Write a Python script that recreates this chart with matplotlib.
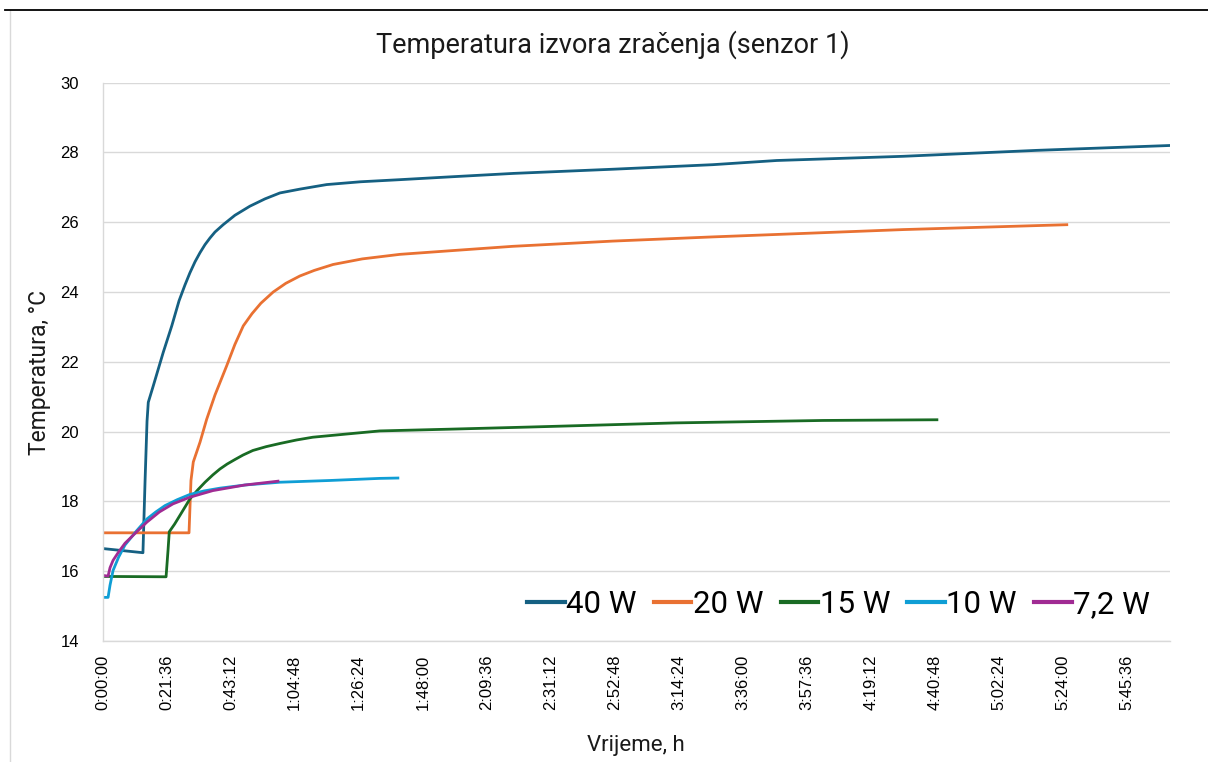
import numpy as np
import matplotlib
matplotlib.use('Agg')
import matplotlib.pyplot as plt
from matplotlib.ticker import FuncFormatter, MultipleLocator
from matplotlib.lines import Line2D

# vrijeme u satima, temperatura u °C (ocitano sa slike)
t_40 = [0.0, 0.227, 0.239, 0.25, 0.257, 0.285, 0.341, 0.389, 0.43, 0.463, 0.491, 0.52,
        0.548, 0.576, 0.604, 0.632, 0.678, 0.744, 0.828, 0.913, 0.997, 1.11, 1.26, 1.45,
        1.67, 1.95, 2.31, 2.87, 3.43, 3.79, 4.5, 5.25, 6.0]
T_40 = [16.65, 16.53, 18.6, 20.3, 20.84, 21.31, 22.27, 23.03, 23.75, 24.2, 24.55, 24.87,
        25.13, 25.36, 25.55, 25.72, 25.93, 26.2, 26.46, 26.67, 26.84, 26.95, 27.08, 27.16,
        27.22, 27.3, 27.4, 27.52, 27.65, 27.77, 27.89, 28.06, 28.2]

t_20 = [0.0, 0.486, 0.497, 0.51, 0.548, 0.585, 0.632, 0.698, 0.744, 0.791, 0.84, 0.89,
        0.959, 1.03, 1.109, 1.19, 1.296, 1.46, 1.671, 2.0, 2.305, 2.867, 3.428, 3.788,
        4.5, 5.42]
T_20 = [17.1, 17.1, 18.6, 19.13, 19.7, 20.35, 21.05, 21.89, 22.5, 23.03, 23.38, 23.68,
        24.0, 24.25, 24.46, 24.62, 24.79, 24.95, 25.08, 25.2, 25.31, 25.46, 25.58, 25.65,
        25.79, 25.93]

t_15 = [0.0, 0.357, 0.368, 0.375, 0.405, 0.435, 0.491, 0.535, 0.576, 0.62, 0.66, 0.7,
        0.744, 0.79, 0.845, 0.92, 0.997, 1.09, 1.182, 1.39, 1.558, 1.95, 2.39, 3.22,
        4.05, 4.69]
T_15 = [15.85, 15.84, 16.6, 17.13, 17.35, 17.6, 18.07, 18.33, 18.55, 18.76, 18.93, 19.07,
        19.2, 19.33, 19.46, 19.57, 19.66, 19.76, 19.84, 19.94, 20.02, 20.07, 20.13, 20.25,
        20.32, 20.34]

t_10 = [0.0, 0.031, 0.042, 0.059, 0.09, 0.126, 0.19, 0.25, 0.3, 0.351, 0.42, 0.491,
        0.57, 0.66, 0.8, 0.997, 1.278, 1.558, 1.66]
T_10 = [15.25, 15.25, 15.6, 16.02, 16.4, 16.75, 17.15, 17.5, 17.7, 17.88, 18.05, 18.2,
        18.3, 18.38, 18.47, 18.55, 18.6, 18.66, 18.67]

t_72 = [0.0, 0.031, 0.042, 0.059, 0.09, 0.126, 0.19, 0.25, 0.32, 0.396, 0.491, 0.62,
        0.8, 0.986]
T_72 = [15.88, 15.86, 16.1, 16.31, 16.55, 16.8, 17.12, 17.41, 17.7, 17.93, 18.12, 18.31,
        18.47, 18.58]

labels = ['40 W', '20 W', '15 W', '10 W', '7,2 W']
colors = ['#156082', '#E97132', '#196B24', '#0F9ED5', '#A02B93']

fig = plt.figure(figsize=(12.08, 7.62), dpi=100)
ax = fig.add_axes([0.0849, 0.1588, 0.8836, 0.7327])

series = [(t_40, T_40), (t_20, T_20), (t_15, T_15), (t_10, T_10), (t_72, T_72)]
for (t, T), lab, c in zip(series, labels, colors):
    ax.plot(t, T, color=c, lw=2.0, label=lab, solid_joinstyle='round')

ax.set_xlim(0, 6.0)
ax.set_ylim(14, 30)
ax.yaxis.set_major_locator(MultipleLocator(2))
ax.xaxis.set_major_locator(MultipleLocator(0.36))


def hms(x, pos):
    s = int(round(x * 3600))
    return '%d:%02d:%02d' % (s // 3600, (s % 3600) // 60, s % 60)


ax.xaxis.set_major_formatter(FuncFormatter(hms))
ax.grid(axis='y', color='#D9D9D9', lw=1)
ax.set_axisbelow(True)
for s in ['top', 'right']:
    ax.spines[s].set_visible(False)
for s in ['left', 'bottom']:
    ax.spines[s].set_color('#D9D9D9')
    ax.spines[s].set_linewidth(1)
ax.tick_params(axis='both', length=0, labelsize=12, colors='black',
               labelfontfamily='Liberation Sans')
ax.tick_params(axis='y', pad=17)
ax.tick_params(axis='x', pad=10, labelrotation=90)

fig.text(0.5075, 0.941, 'Temperatura izvora zračenja (senzor 1)', ha='center', va='center',
         fontsize=19.5, family=['Roboto', 'DejaVu Sans'], color='#1a1a1a')
fig.text(0.033, 0.5105, 'Temperatura, °C', rotation=90, ha='center', va='center',
         fontsize=16.5, family=['Roboto', 'DejaVu Sans'], color='#1a1a1a')
fig.text(0.5265, 0.022, 'Vrijeme, h', ha='center', va='center',
         fontsize=16, family=['Roboto', 'DejaVu Sans'], color='#1a1a1a')

leg = ax.legend(loc='center right', bbox_to_anchor=(0.996, 0.066), ncol=5, frameon=False,
                handlelength=1.2, handletextpad=0.05, columnspacing=0.55, borderpad=0,
                prop={'family': ['Roboto', 'DejaVu Sans'], 'size': 22.5})
for h in leg.legend_handles:
    h.set_linewidth(3)

# okvir grafikona i crta zaglavlja
fig.add_artist(Line2D([9.5 / 1208, 9.5 / 1208], [0, 1 - 10 / 762], transform=fig.transFigure,
                      color='#D9D9D9', lw=1))
fig.add_artist(Line2D([5 / 1208, 1], [1 - 9.5 / 762, 1 - 9.5 / 762], transform=fig.transFigure,
                      color='black', lw=1.3))

fig.savefig('out.png', dpi=100)
